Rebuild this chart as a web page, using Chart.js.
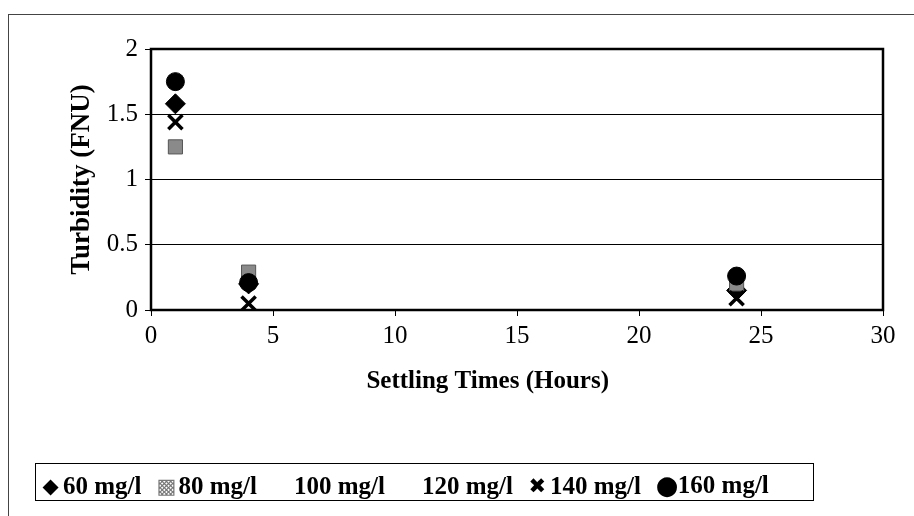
<!DOCTYPE html>
<html>
<head>
<meta charset="utf-8">
<script src="https://cdn.jsdelivr.net/npm/chart.js@4/dist/chart.umd.min.js"></script>
<style>
  html, body { margin: 0; padding: 0; background: #fff; overflow: hidden; }
  #wrap { position: relative; width: 914px; height: 516px; }
  #frame { position: absolute; left: 8px; top: 14px; width: 1000px; height: 1000px; border: 1px solid #444; }
  #chartBox { position: absolute; left: 0; top: 0; width: 914px; height: 516px; }
  #legend {
    position: absolute; left: 35px; top: 463px; width: 772px; height: 36px;
    border: 1.5px solid #000; display: flex; align-items: flex-end; padding-left: 5px;
    font-family: "Liberation Serif", serif; font-weight: bold; font-size: 25px;
  }
  #legend .item { display: flex; align-items: center; margin-right: 15px; white-space: nowrap; }
  #legend .mk { display: inline-block; width: 19px; margin-right: 3px; text-align: center;
    font-family: "DejaVu Sans", sans-serif; }
</style>
</head>
<body>
<div id="wrap">
  <div id="frame"></div>
  <div id="chartBox"><canvas id="turbidity"></canvas></div>
  <div id="legend"></div>
</div>
<script>
// settling times (hours) and turbidity readings (FNU) per alum dose
const times = [1, 4, 24];
const doses = ['60 mg/l', '80 mg/l', '100 mg/l', '120 mg/l', '140 mg/l', '160 mg/l'];
const s60 = [1.58, 0.20, 0.15];
const s80 = [1.25, 0.29, 0.20];
const s100 = [1.35, 0.22, 0.18];
const s120 = [1.40, 0.20, 0.16];
const s140 = [1.44, 0.05, 0.09];
const s160 = [1.75, 0.21, 0.26];
const xTicks = [0, 5, 10, 15, 20, 25, 30];
const yTicks = [0, 0.5, 1, 1.5, 2];
const xTitle = 'Settling Times (Hours)';

const series = [s60, s80, s100, s120, s140, s160];
const styles = [
  { pointStyle: 'rectRot', radius: 10, color: '#000', glyph: '\u25C6' },
  { pointStyle: 'rect', radius: 10, color: '#8a8a8a', glyph: '\u25A9' },
  { pointStyle: 'triangle', radius: 0, color: 'rgba(0,0,0,0)', glyph: '' },
  { pointStyle: 'triangle', radius: 0, color: 'rgba(0,0,0,0)', glyph: '' },
  { pointStyle: 'crossRot', radius: 10, color: '#000', glyph: '\u2716' },
  { pointStyle: 'circle', radius: 9, color: '#000', glyph: '\u25CF' }
];

const datasets = series.map((vals, i) => ({
  label: doses[i],
  data: vals.map((v, j) => ({ x: times[j], y: v })),
  showLine: false,
  pointStyle: styles[i].pointStyle,
  pointRadius: styles[i].radius,
  pointBackgroundColor: styles[i].color,
  pointBorderColor: styles[i].pointStyle === 'rect' ? '#555' : styles[i].color,
  pointBorderWidth: styles[i].pointStyle === 'crossRot' ? 3.5 : 1,
  order: 5 - i
}));

const serif = '"Liberation Serif", "Times New Roman", serif';

// plot frame + x title (the original sits a bit left of the plot centre)
const plotBorder = {
  id: 'plotBorder',
  beforeDatasetsDraw(chart) {
    const { ctx, chartArea: a } = chart;
    ctx.save();
    ctx.strokeStyle = '#000';
    ctx.lineWidth = 2.5;
    ctx.strokeRect(a.left, a.top, a.right - a.left, a.bottom - a.top);
    ctx.restore();
  },
  afterDraw(chart) {
    const { ctx, chartArea: a } = chart;
    ctx.save();
    ctx.fillStyle = '#000';
    ctx.font = 'bold 25px ' + serif;
    ctx.textAlign = 'center';
    ctx.textBaseline = 'middle';
    ctx.fillText(xTitle, a.left + (a.right - a.left) * 0.46, a.bottom + 72);
    ctx.restore();
  }
};

const chart = new Chart(document.getElementById('turbidity'), {
  type: 'scatter',
  data: { datasets: datasets },
  options: {
    responsive: true,
    maintainAspectRatio: false,
    animation: false,
    layout: { padding: { top: 49, right: 31, bottom: 116, left: 0 } },
    plugins: {
      legend: { display: false },
      tooltip: { enabled: false }
    },
    scales: {
      x: {
        type: 'linear',
        min: 0,
        max: 30,
        afterBuildTicks: s => { s.ticks = xTicks.map(v => ({ value: v })); },
        afterFit: s => { s.height = 90; },
        border: { display: false },
        grid: { drawOnChartArea: false, color: '#000', tickLength: 6, lineWidth: 1 },
        ticks: { color: '#000', padding: 5, font: { family: serif, size: 25 }, maxRotation: 0,
          callback: v => String(v) },
        title: { display: false }
      },
      y: {
        min: 0,
        max: 2,
        afterBuildTicks: s => { s.ticks = yTicks.map(v => ({ value: v })); },
        afterFit: s => { s.width = 151; },
        border: { display: false },
        grid: { color: '#000', tickLength: 6, lineWidth: 1 },
        ticks: { color: '#000', padding: 7, font: { family: serif, size: 25 },
          callback: v => String(v) },
        title: {
          display: true,
          text: 'Turbidity (FNU)',
          color: '#000',
          font: { family: serif, size: 27, weight: 'bold' },
          padding: { top: 66, bottom: 0 }
        }
      }
    }
  },
  plugins: [plotBorder]
});

// legend box under the chart
const legendEl = document.getElementById('legend');
chart.data.datasets.forEach((ds, i) => {
  const item = document.createElement('span');
  item.className = 'item';
  const mk = document.createElement('span');
  mk.className = 'mk';
  mk.textContent = styles[i].glyph;
  mk.style.color = styles[i].pointStyle === 'rect' ? '#777' : '#000';
  mk.style.fontSize = styles[i].pointStyle === 'circle' ? '26px' : '21px';
  const txt = document.createElement('span');
  txt.textContent = ds.label;
  item.appendChild(mk);
  item.appendChild(txt);
  legendEl.appendChild(item);
});
</script>
</body>
</html>
